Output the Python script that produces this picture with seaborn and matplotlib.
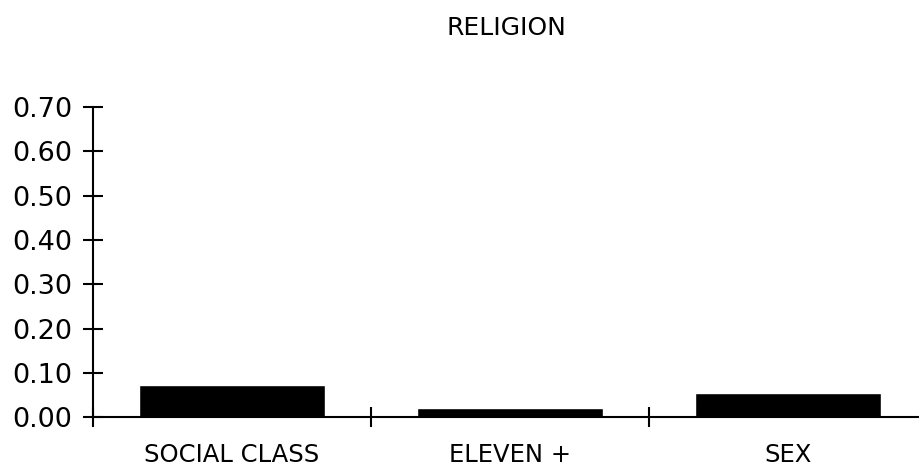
import numpy as np
import matplotlib
matplotlib.use('Agg')
import matplotlib.pyplot as plt
import seaborn as sns
import pandas as pd

# valorile
categories = ['SOCIAL CLASS', 'ELEVEN +', 'SEX']
values = [0.072, 0.020, 0.055]
y_ticks = [0.00, 0.10, 0.20, 0.30, 0.40, 0.50, 0.60, 0.70]
title = 'RELIGION'

sns.set_style('white')
plt.rcParams['font.family'] = ['DejaVu Sans']

df = pd.DataFrame({'factor': categories, 'value': values})

fig = plt.figure(figsize=(9.2, 4.66), dpi=100)
ax = fig.add_axes([0.101, 0.105, 0.899, 0.665])

sns.barplot(data=df, x='factor', y='value', color='black', width=0.67,
            saturation=1, ax=ax)

ax.set_xlim(-0.5, 2.475)
ax.set_ylim(0, 0.70)
ax.set_yticks(y_ticks)
ax.set_yticklabels([f'{v:.2f}' for v in y_ticks], color='black')
ax.set_xlabel('')
ax.set_ylabel('')

# tick-uri intre categorii
ax.set_xticks([-0.5, 0.5, 1.5], minor=True)
ax.tick_params(axis='x', which='major', length=0, pad=19, labelsize=17.5,
               labelcolor='black')
ax.tick_params(axis='x', which='minor', direction='inout', length=14, width=1.5,
               color='black', bottom=True)
ax.tick_params(axis='y', direction='inout', length=14, width=1.5, pad=8,
               labelsize=19.5, color='black', left=True)

for side in ['top', 'right']:
    ax.spines[side].set_visible(False)
for side in ['left', 'bottom']:
    ax.spines[side].set_linewidth(1.5)
    ax.spines[side].set_color('black')

ax.set_title(title, fontsize=18, pad=52, color='black')

fig.savefig('out.png', dpi=100)
